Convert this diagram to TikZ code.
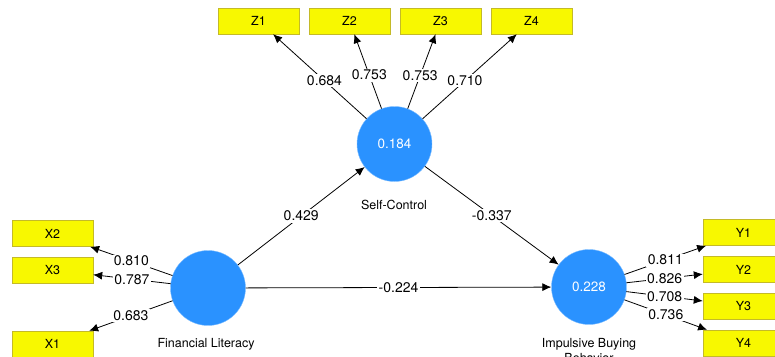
\documentclass[tikz,border=0pt]{standalone}
\usepackage{fontspec}
\setmainfont{TeX Gyre Heros}
\usetikzlibrary{arrows.meta}
\definecolor{lvblue}{RGB}{42,146,255}
\definecolor{mvyellow}{RGB}{248,248,0}
\definecolor{mvedge}{RGB}{196,186,40}
\begin{document}
\begin{tikzpicture}[x=1pt,y=-1pt,
    latent/.style={circle,fill=lvblue,draw=lvblue!60!white,minimum size=75pt,inner sep=0pt,
        text=white,font=\fontsize{13.5}{15}\selectfont},
    indicator/.style={rectangle,fill=mvyellow,draw=mvedge,minimum width=81pt,minimum height=26pt,
        inner sep=0pt,font=\fontsize{12.5}{14}\selectfont},
    link/.style={draw,line width=0.8pt,-{Latex[length=9pt,width=8pt]}},
    coef/.style={fill=white,inner sep=1.5pt,font=\fontsize{14}{16}\selectfont},
    lvname/.style={font=\fontsize{12.5}{15}\selectfont,align=center}]
    \useasboundingbox (0,0) rectangle (775,356);
    % constructs
    \node[latent] (sc) at (394.5,144) {0.184};
    \node[latent] (fl) at (208,288) {};
    \node[latent] (ibb) at (589,287) {0.228};
    \node[lvname] (sclbl) at (394,205) {Self-Control};
    \node[lvname] (fllbl) at (206,344) {Financial Literacy};
    \node[lvname,anchor=north] (ibblbl) at (589,335) {Impulsive Buying\\Behavior};
    % indicators
    \foreach \n/\x in {1/258.5,2/349.5,3/440.5,4/531.5}
        \node[indicator] (z\n) at (\x,21) {Z\n};
    \foreach \n/\y in {2/233.5,3/270,1/344}
        \node[indicator] (x\n) at (52.5,\y) {X\n};
    \foreach \n/\y in {1/232.5,2/269.5,3/306,4/343}
        \node[indicator] (y\n) at (743.5,\y) {Y\n};
    % loadings
    \foreach \n/\v in {1/0.684,2/0.753,3/0.753,4/0.710}
        \draw[link] (sc) -- node[coef,pos=0.45] {\v} (z\n);
    \foreach \n/\v in {2/0.810,3/0.787,1/0.683}
        \draw[link] (fl) -- node[coef] {\v} (x\n);
    \foreach \n/\v in {1/0.811,2/0.826,3/0.708,4/0.736}
        \draw[link] (ibb) -- node[coef] {\v} (y\n);
    % paths
    \draw[link] (fl) -- node[coef] {0.429} (sc);
    \draw[link] (sc) -- node[coef] {-0.337} (ibb);
    \draw[link] (fl) -- node[coef] {-0.224} (ibb);
\end{tikzpicture}
\end{document}
